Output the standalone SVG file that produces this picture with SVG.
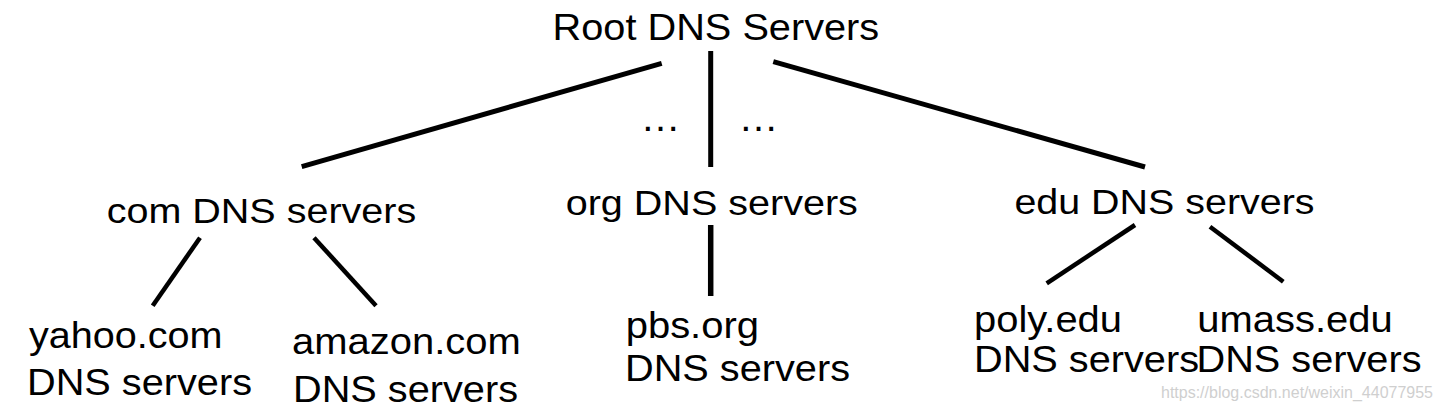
<svg xmlns="http://www.w3.org/2000/svg" width="1443" height="411" viewBox="0 0 1443 411">
  <style>
    text { font-family: "Liberation Sans", Arial, sans-serif; fill: #000; }
    .root { font-size: 36.5px; }
    .mid { font-size: 35px; }
    .leaf { font-size: 36px; }
    .dots { font-size: 40px; }
    .wm { font-size: 16px; fill: #cfcfcf; }
    .c5 { stroke: #000; stroke-width: 5; fill: none; }
    .c45 { stroke: #000; stroke-width: 4.5; fill: none; }
    .c55 { stroke: #000; stroke-width: 5.5; fill: none; }
  </style>
  <rect width="1443" height="411" fill="#fff"/>

  <g id="connectors">
    <line class="c5" x1="661.7" y1="63.3" x2="301.7" y2="166.7"/>
    <line class="c5" x1="710.7" y1="51" x2="710.7" y2="167"/>
    <line class="c5" x1="773.3" y1="61.7" x2="1145" y2="167"/>
    <line class="c45" x1="200" y1="237.7" x2="152.7" y2="305.7"/>
    <line class="c45" x1="314" y1="237.7" x2="376" y2="305.7"/>
    <line class="c55" x1="710.7" y1="225" x2="710.7" y2="296"/>
    <line class="c45" x1="1135" y1="225" x2="1046.7" y2="283.3"/>
    <line class="c45" x1="1210" y1="226.7" x2="1283.3" y2="281.7"/>
  </g>

  <g id="ellipsis">
    <text class="dots" x="640.4" y="131">…</text>
    <text class="dots" x="738.4" y="131">…</text>
  </g>

  <g id="root">
    <text class="root" x="552.6" y="39.5" textLength="326.6" lengthAdjust="spacingAndGlyphs">Root DNS Servers</text>
  </g>
  <g id="com">
    <text class="mid" x="106.7" y="223" textLength="309.5" lengthAdjust="spacingAndGlyphs">com DNS servers</text>
  </g>
  <g id="org">
    <text class="mid" x="565.7" y="214.5" textLength="292.2" lengthAdjust="spacingAndGlyphs">org DNS servers</text>
  </g>
  <g id="edu">
    <text class="mid" x="1014.4" y="214" textLength="300.1" lengthAdjust="spacingAndGlyphs">edu DNS servers</text>
  </g>
  <g id="yahoo">
    <text class="leaf" x="28.9" y="347.5" textLength="193.6" lengthAdjust="spacingAndGlyphs">yahoo.com</text>
    <text class="leaf" x="27" y="394.5" textLength="225" lengthAdjust="spacingAndGlyphs">DNS servers</text>
  </g>
  <g id="amazon">
    <text class="leaf" x="291.9" y="354" textLength="228.9" lengthAdjust="spacingAndGlyphs">amazon.com</text>
    <text class="leaf" x="293" y="402" textLength="225" lengthAdjust="spacingAndGlyphs">DNS servers</text>
  </g>
  <g id="pbs">
    <text class="leaf" x="625.7" y="338" textLength="133.3" lengthAdjust="spacingAndGlyphs">pbs.org</text>
    <text class="leaf" x="625" y="381" textLength="225" lengthAdjust="spacingAndGlyphs">DNS servers</text>
  </g>
  <g id="poly">
    <text class="leaf" x="974.1" y="331.7" textLength="147.9" lengthAdjust="spacingAndGlyphs">poly.edu</text>
    <text class="leaf" x="974" y="372" textLength="225" lengthAdjust="spacingAndGlyphs">DNS servers</text>
  </g>
  <g id="umass">
    <text class="leaf" x="1197.3" y="331.7" textLength="195.4" lengthAdjust="spacingAndGlyphs">umass.edu</text>
    <text class="leaf" x="1196.5" y="372" textLength="225" lengthAdjust="spacingAndGlyphs">DNS servers</text>
  </g>

  <g id="watermark">
    <text class="wm" x="1161" y="398.3" textLength="272" lengthAdjust="spacingAndGlyphs">https://blog.csdn.net/weixin_44077955</text>
  </g>
</svg>
